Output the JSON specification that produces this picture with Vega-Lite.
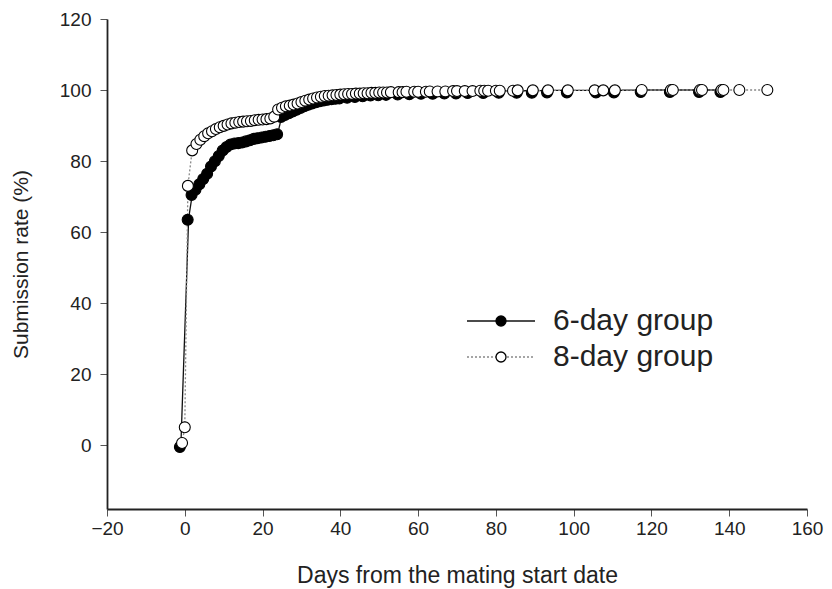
{
  "$schema": "https://vega.github.io/schema/vega-lite/v6.json",
  "width": 700,
  "height": 490,
  "autosize": {"type": "none"},
  "padding": {"left": 107, "top": 19, "right": 25, "bottom": 80},
  "background": "white",
  "config": {
    "view": {"stroke": null},
    "font": "Liberation Sans",
    "axis": {
      "labelFont": "Liberation Sans",
      "labelFontSize": 19,
      "labelColor": "#222",
      "titleFont": "Liberation Sans",
      "titleFontSize": 21,
      "titleFontWeight": "normal",
      "titleColor": "#222",
      "domainColor": "#222",
      "domainWidth": 1.8,
      "tickColor": "#555",
      "tickSize": 7,
      "tickWidth": 1,
      "grid": false,
      "labelFlush": false,
      "labelOverlap": false
    },
    "legend": {
      "labelFont": "Liberation Sans",
      "labelFontSize": 30,
      "labelColor": "#222",
      "labelLimit": 400,
      "padding": 0,
      "rowPadding": 6
    }
  },
  "data": {
    "values": [
      {"day": -1, "rate": 0, "group": "6-day group"},
      {"day": 1, "rate": 64, "group": "6-day group"},
      {"day": 2, "rate": 71, "group": "6-day group"},
      {"day": 3, "rate": 72.5, "group": "6-day group"},
      {"day": 4, "rate": 74, "group": "6-day group"},
      {"day": 5, "rate": 75.5, "group": "6-day group"},
      {"day": 6, "rate": 77, "group": "6-day group"},
      {"day": 7, "rate": 79, "group": "6-day group"},
      {"day": 8, "rate": 80.5, "group": "6-day group"},
      {"day": 9, "rate": 82, "group": "6-day group"},
      {"day": 10, "rate": 83.5, "group": "6-day group"},
      {"day": 11, "rate": 84.5, "group": "6-day group"},
      {"day": 12, "rate": 85.2, "group": "6-day group"},
      {"day": 13, "rate": 85.5, "group": "6-day group"},
      {"day": 14, "rate": 85.6, "group": "6-day group"},
      {"day": 15, "rate": 85.8, "group": "6-day group"},
      {"day": 16, "rate": 86.1, "group": "6-day group"},
      {"day": 17, "rate": 86.4, "group": "6-day group"},
      {"day": 18, "rate": 86.8, "group": "6-day group"},
      {"day": 19, "rate": 87, "group": "6-day group"},
      {"day": 20, "rate": 87.2, "group": "6-day group"},
      {"day": 21, "rate": 87.4, "group": "6-day group"},
      {"day": 22, "rate": 87.6, "group": "6-day group"},
      {"day": 23, "rate": 87.8, "group": "6-day group"},
      {"day": 24, "rate": 88.1, "group": "6-day group"},
      {"day": 25, "rate": 93, "group": "6-day group"},
      {"day": 26, "rate": 93.5, "group": "6-day group"},
      {"day": 27, "rate": 94, "group": "6-day group"},
      {"day": 28, "rate": 94.5, "group": "6-day group"},
      {"day": 29, "rate": 95, "group": "6-day group"},
      {"day": 30, "rate": 95.5, "group": "6-day group"},
      {"day": 31, "rate": 96, "group": "6-day group"},
      {"day": 32, "rate": 96.4, "group": "6-day group"},
      {"day": 33, "rate": 96.8, "group": "6-day group"},
      {"day": 34, "rate": 97.1, "group": "6-day group"},
      {"day": 35, "rate": 97.4, "group": "6-day group"},
      {"day": 36, "rate": 97.6, "group": "6-day group"},
      {"day": 37, "rate": 97.8, "group": "6-day group"},
      {"day": 38, "rate": 98, "group": "6-day group"},
      {"day": 39, "rate": 98.1, "group": "6-day group"},
      {"day": 40, "rate": 98.2, "group": "6-day group"},
      {"day": 42, "rate": 98.4, "group": "6-day group"},
      {"day": 44, "rate": 98.6, "group": "6-day group"},
      {"day": 46, "rate": 98.8, "group": "6-day group"},
      {"day": 48, "rate": 99, "group": "6-day group"},
      {"day": 50, "rate": 99.1, "group": "6-day group"},
      {"day": 52, "rate": 99.2, "group": "6-day group"},
      {"day": 55, "rate": 99.3, "group": "6-day group"},
      {"day": 58, "rate": 99.4, "group": "6-day group"},
      {"day": 61, "rate": 99.5, "group": "6-day group"},
      {"day": 64, "rate": 99.5, "group": "6-day group"},
      {"day": 67, "rate": 99.6, "group": "6-day group"},
      {"day": 70, "rate": 99.6, "group": "6-day group"},
      {"day": 73, "rate": 99.7, "group": "6-day group"},
      {"day": 77, "rate": 99.7, "group": "6-day group"},
      {"day": 81, "rate": 99.8, "group": "6-day group"},
      {"day": 85.6, "rate": 99.8, "group": "6-day group"},
      {"day": 89.5, "rate": 99.8, "group": "6-day group"},
      {"day": 93.4, "rate": 99.9, "group": "6-day group"},
      {"day": 98.5, "rate": 99.9, "group": "6-day group"},
      {"day": 106, "rate": 99.9, "group": "6-day group"},
      {"day": 110.6, "rate": 99.9, "group": "6-day group"},
      {"day": 117.5, "rate": 100, "group": "6-day group"},
      {"day": 125, "rate": 100, "group": "6-day group"},
      {"day": 132.5, "rate": 100, "group": "6-day group"},
      {"day": 138, "rate": 100, "group": "6-day group"},
      {"day": -0.7, "rate": 0.6, "group": "8-day group"},
      {"day": 0, "rate": 5, "group": "8-day group"},
      {"day": 0.8, "rate": 73, "group": "8-day group"},
      {"day": 1.9, "rate": 83, "group": "8-day group"},
      {"day": 3, "rate": 84.8, "group": "8-day group"},
      {"day": 4, "rate": 86, "group": "8-day group"},
      {"day": 5, "rate": 87, "group": "8-day group"},
      {"day": 6, "rate": 87.8, "group": "8-day group"},
      {"day": 7, "rate": 88.4, "group": "8-day group"},
      {"day": 8, "rate": 89, "group": "8-day group"},
      {"day": 9, "rate": 89.5, "group": "8-day group"},
      {"day": 10, "rate": 89.9, "group": "8-day group"},
      {"day": 11, "rate": 90.3, "group": "8-day group"},
      {"day": 12, "rate": 90.6, "group": "8-day group"},
      {"day": 13, "rate": 90.8, "group": "8-day group"},
      {"day": 14, "rate": 91, "group": "8-day group"},
      {"day": 15, "rate": 91.1, "group": "8-day group"},
      {"day": 16, "rate": 91.2, "group": "8-day group"},
      {"day": 17, "rate": 91.3, "group": "8-day group"},
      {"day": 18, "rate": 91.5, "group": "8-day group"},
      {"day": 19, "rate": 91.6, "group": "8-day group"},
      {"day": 20, "rate": 91.7, "group": "8-day group"},
      {"day": 21, "rate": 91.8, "group": "8-day group"},
      {"day": 22, "rate": 92, "group": "8-day group"},
      {"day": 23, "rate": 92.5, "group": "8-day group"},
      {"day": 24, "rate": 94.5, "group": "8-day group"},
      {"day": 25, "rate": 95, "group": "8-day group"},
      {"day": 26, "rate": 95.4, "group": "8-day group"},
      {"day": 27, "rate": 95.6, "group": "8-day group"},
      {"day": 28, "rate": 95.9, "group": "8-day group"},
      {"day": 29, "rate": 96.2, "group": "8-day group"},
      {"day": 30, "rate": 96.6, "group": "8-day group"},
      {"day": 31, "rate": 97, "group": "8-day group"},
      {"day": 32, "rate": 97.3, "group": "8-day group"},
      {"day": 33, "rate": 97.6, "group": "8-day group"},
      {"day": 34, "rate": 97.9, "group": "8-day group"},
      {"day": 35, "rate": 98.1, "group": "8-day group"},
      {"day": 36, "rate": 98.3, "group": "8-day group"},
      {"day": 37, "rate": 98.4, "group": "8-day group"},
      {"day": 38, "rate": 98.5, "group": "8-day group"},
      {"day": 39, "rate": 98.6, "group": "8-day group"},
      {"day": 40, "rate": 98.7, "group": "8-day group"},
      {"day": 41, "rate": 98.8, "group": "8-day group"},
      {"day": 42, "rate": 98.9, "group": "8-day group"},
      {"day": 43, "rate": 98.9, "group": "8-day group"},
      {"day": 44, "rate": 99, "group": "8-day group"},
      {"day": 45, "rate": 99, "group": "8-day group"},
      {"day": 46, "rate": 99.1, "group": "8-day group"},
      {"day": 47, "rate": 99.1, "group": "8-day group"},
      {"day": 48, "rate": 99.2, "group": "8-day group"},
      {"day": 49, "rate": 99.2, "group": "8-day group"},
      {"day": 50, "rate": 99.3, "group": "8-day group"},
      {"day": 51, "rate": 99.3, "group": "8-day group"},
      {"day": 52, "rate": 99.3, "group": "8-day group"},
      {"day": 53, "rate": 99.4, "group": "8-day group"},
      {"day": 55, "rate": 99.4, "group": "8-day group"},
      {"day": 56, "rate": 99.4, "group": "8-day group"},
      {"day": 57, "rate": 99.5, "group": "8-day group"},
      {"day": 59, "rate": 99.5, "group": "8-day group"},
      {"day": 60, "rate": 99.5, "group": "8-day group"},
      {"day": 62, "rate": 99.5, "group": "8-day group"},
      {"day": 63, "rate": 99.6, "group": "8-day group"},
      {"day": 65, "rate": 99.6, "group": "8-day group"},
      {"day": 67, "rate": 99.6, "group": "8-day group"},
      {"day": 69, "rate": 99.7, "group": "8-day group"},
      {"day": 70, "rate": 99.7, "group": "8-day group"},
      {"day": 72, "rate": 99.7, "group": "8-day group"},
      {"day": 74, "rate": 99.7, "group": "8-day group"},
      {"day": 76, "rate": 99.8, "group": "8-day group"},
      {"day": 77, "rate": 99.8, "group": "8-day group"},
      {"day": 78, "rate": 99.8, "group": "8-day group"},
      {"day": 80, "rate": 99.8, "group": "8-day group"},
      {"day": 81, "rate": 99.8, "group": "8-day group"},
      {"day": 84.4, "rate": 99.8, "group": "8-day group"},
      {"day": 85.6, "rate": 99.9, "group": "8-day group"},
      {"day": 89.5, "rate": 99.9, "group": "8-day group"},
      {"day": 93.4, "rate": 99.9, "group": "8-day group"},
      {"day": 98.5, "rate": 99.9, "group": "8-day group"},
      {"day": 105.4, "rate": 99.9, "group": "8-day group"},
      {"day": 107.6, "rate": 99.9, "group": "8-day group"},
      {"day": 110.6, "rate": 99.9, "group": "8-day group"},
      {"day": 117.5, "rate": 100, "group": "8-day group"},
      {"day": 125, "rate": 100, "group": "8-day group"},
      {"day": 125.5, "rate": 100, "group": "8-day group"},
      {"day": 132.5, "rate": 100, "group": "8-day group"},
      {"day": 133, "rate": 100, "group": "8-day group"},
      {"day": 138, "rate": 100, "group": "8-day group"},
      {"day": 138.5, "rate": 100, "group": "8-day group"},
      {"day": 142.6, "rate": 100, "group": "8-day group"},
      {"day": 149.8, "rate": 100, "group": "8-day group"}
    ]
  },
  "encoding": {
    "x": {
      "field": "day",
      "type": "quantitative",
      "scale": {"domain": [-20, 160], "nice": false},
      "axis": {
        "values": [-20, 0, 20, 40, 60, 80, 100, 120, 140, 160],
        "title": "Days from the mating start date",
        "titleFontSize": 23,
        "labelPadding": 3,
        "titlePadding": 26
      }
    },
    "y": {
      "field": "rate",
      "type": "quantitative",
      "scale": {"domain": [-18, 120], "nice": false, "zero": false},
      "axis": {
        "values": [0, 20, 40, 60, 80, 100, 120],
        "title": "Submission rate (%)",
        "labelPadding": 9,
        "titlePadding": 28
      }
    }
  },
  "layer": [
    {
      "mark": {"type": "line", "strokeWidth": 1.3},
      "encoding": {
        "detail": {"field": "group", "type": "nominal"},
        "stroke": {
          "field": "group",
          "type": "nominal",
          "scale": {"range": ["#111111", "#888888"]},
          "legend": {
            "orient": "none",
            "legendX": 379,
            "legendY": 287,
            "title": null,
            "symbolType": "M-6.8,0H6.8",
            "symbolSize": 100,
            "symbolStrokeWidth": 1.3,
            "labelOffset": 37
          }
        },
        "strokeDash": {
          "field": "group",
          "type": "nominal",
          "scale": {"range": [[1, 0], [2, 2]]},
          "legend": {
            "orient": "none",
            "legendX": 379,
            "legendY": 287,
            "title": null,
            "symbolType": "M-6.8,0H6.8",
            "symbolSize": 100,
            "symbolStrokeWidth": 1.3,
            "labelOffset": 37
          }
        }
      }
    },
    {
      "transform": [{"filter": "datum.group === '6-day group'"}],
      "mark": {"type": "point", "shape": "circle", "filled": true, "size": 120, "stroke": "black", "strokeWidth": 1.1, "opacity": 1, "xOffset": -1, "yOffset": 2},
      "encoding": {
        "fill": {
          "field": "group",
          "type": "nominal",
          "scale": {"domain": ["6-day group", "8-day group"], "range": ["#000000", "#ffffff"]},
          "legend": {
            "orient": "none",
            "legendX": 379,
            "legendY": 287,
            "title": null,
            "symbolType": "circle",
            "symbolSize": 100,
            "symbolStrokeColor": "black",
            "symbolStrokeWidth": 1.3,
            "labelOffset": 37,
            "labelColor": "transparent"
          }
        }
      }
    },
    {
      "transform": [{"filter": "datum.group === '8-day group'"}],
      "mark": {"type": "point", "shape": "circle", "filled": true, "size": 120, "stroke": "black", "strokeWidth": 1.1, "opacity": 1},
      "encoding": {
        "fill": {
          "field": "group",
          "type": "nominal",
          "scale": {"domain": ["6-day group", "8-day group"], "range": ["#000000", "#ffffff"]}
        }
      }
    }
  ]
}
